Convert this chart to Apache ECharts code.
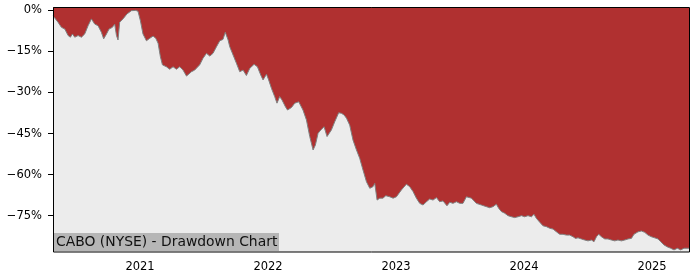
<!DOCTYPE html>
<html>
<head>
<meta charset="utf-8">
<script src="https://cdn.jsdelivr.net/npm/echarts@6/dist/echarts.min.js"></script>
<style>
html,body{margin:0;padding:0;background:#fff;}
#chart{width:700px;height:280px;}
</style>
</head>
<body>
<div id="chart"></div>
<script>
// Decimal-year dates
const years = [
2020.320,2020.359,2020.386,2020.412,2020.438,2020.456,2020.472,2020.490,2020.516,2020.542,
2020.568,2020.594,2020.620,2020.646,2020.672,2020.698,2020.716,2020.738,2020.758,2020.784,
2020.802,2020.816,2020.828,2020.841,2020.867,2020.898,2020.933,2020.966,2020.984,2021.003,
2021.023,2021.050,2021.076,2021.102,2021.123,2021.141,2021.159,2021.175,2021.206,2021.232,
2021.258,2021.284,2021.310,2021.336,2021.363,2021.375,2021.402,2021.427,2021.466,2021.492,
2021.519,2021.545,2021.570,2021.597,2021.623,2021.648,2021.666,2021.688,2021.701,2021.727,
2021.753,2021.779,2021.805,2021.831,2021.857,2021.891,2021.917,2021.943,2021.961,2021.988,
2022.005,2022.027,2022.052,2022.070,2022.091,2022.109,2022.136,2022.152,2022.183,2022.209,
2022.240,2022.255,2022.273,2022.300,2022.326,2022.352,2022.370,2022.391,2022.412,2022.438,
2022.461,2022.495,2022.521,2022.552,2022.573,2022.594,2022.613,2022.638,2022.664,2022.691,
2022.716,2022.742,2022.769,2022.795,2022.820,2022.834,2022.852,2022.873,2022.898,2022.920,
2022.951,2022.977,2023.003,2023.042,2023.081,2023.107,2023.133,2023.159,2023.185,2023.211,
2023.238,2023.263,2023.289,2023.316,2023.341,2023.367,2023.398,2023.420,2023.445,2023.472,
2023.498,2023.523,2023.550,2023.589,2023.628,2023.667,2023.706,2023.732,2023.758,2023.784,
2023.802,2023.823,2023.849,2023.875,2023.902,2023.927,2023.953,2023.980,2024.005,2024.031,
2024.058,2024.078,2024.097,2024.123,2024.148,2024.175,2024.201,2024.227,2024.253,2024.279,
2024.305,2024.331,2024.357,2024.383,2024.402,2024.422,2024.448,2024.474,2024.500,2024.527,
2024.547,2024.566,2024.584,2024.605,2024.631,2024.656,2024.683,2024.709,2024.734,2024.761,
2024.787,2024.813,2024.839,2024.859,2024.891,2024.917,2024.943,2024.969,2024.995,2025.021,
2025.047,2025.068,2025.094,2025.120,2025.146,2025.172,2025.198,2025.224,2025.250,2025.289
];
// Drawdown in percent
const drawdown = [
-2.0,-4.3,-6.2,-6.8,-9.2,-9.8,-8.6,-9.8,-9.2,-9.8,
-8.6,-5.6,-3.1,-5.0,-5.6,-8.0,-10.4,-8.6,-6.8,-6.2,
-5.0,-9.2,-10.8,-4.3,-3.1,-1.3,-0.1,0.0,-0.3,-3.8,
-8.6,-11.1,-10.2,-9.4,-10.2,-12.0,-16.9,-19.9,-20.6,-21.5,
-20.6,-21.5,-20.6,-21.8,-24.0,-24.4,-22.4,-21.8,-19.9,-17.5,
-15.7,-16.7,-15.7,-13.3,-11.1,-10.6,-8.0,-10.8,-13.3,-16.3,
-19.3,-22.4,-21.8,-23.8,-21.2,-19.7,-20.6,-23.6,-25.4,-23.3,
-25.4,-28.5,-31.5,-33.9,-31.5,-32.7,-35.2,-36.4,-35.5,-33.9,
-33.4,-33.9,-36.4,-40.0,-46.1,-51.0,-49.2,-44.9,-43.7,-42.5,
-46.1,-43.7,-40.7,-37.4,-37.6,-38.2,-39.4,-41.9,-47.4,-51.0,
-54.0,-58.3,-62.6,-65.0,-64.4,-63.2,-69.3,-68.6,-68.6,-67.7,
-68.1,-68.6,-68.1,-65.6,-63.5,-64.4,-66.2,-68.6,-70.5,-71.1,
-69.9,-68.9,-69.3,-68.4,-69.9,-69.6,-71.4,-70.1,-70.5,-69.9,
-70.5,-70.5,-68.1,-68.6,-70.5,-71.1,-71.7,-72.1,-71.7,-70.8,
-72.3,-73.5,-74.1,-75.0,-75.4,-75.7,-75.4,-75.0,-75.4,-75.0,
-75.4,-74.5,-76.0,-77.4,-78.7,-79.0,-79.6,-79.9,-80.9,-81.8,
-81.8,-82.1,-82.1,-82.7,-83.3,-83.1,-83.5,-83.9,-84.2,-83.9,
-84.5,-82.7,-81.8,-82.7,-83.5,-83.5,-83.9,-84.2,-83.9,-84.2,
-83.9,-83.5,-83.3,-81.8,-80.9,-80.6,-81.1,-82.1,-82.7,-83.1,
-83.5,-84.5,-85.7,-86.4,-86.9,-87.5,-86.9,-87.5,-86.9,-86.9
];
const xTicks = [2021, 2022, 2023, 2024, 2025];
const yTicks = [0, -15, -30, -45, -60, -75];
const title = 'CABO (NYSE) - Drawdown Chart';

const chart = echarts.init(document.getElementById('chart'), null, {renderer: 'canvas'});
const FONT = 'DejaVu Sans';
chart.setOption({
  animation: false,
  backgroundColor: '#ffffff',
  grid: {
    left: 53, right: 11, top: 7, bottom: 28,
    show: true, backgroundColor: '#ececec', borderWidth: 0
  },
  xAxis: {
    type: 'value',
    min: 2020.320, max: 2025.289,
    splitLine: {show: false},
    axisLine: {show: false},
    axisTick: {show: true, length: 5, customValues: xTicks, lineStyle: {color: '#000', width: 1}},
    axisLabel: {
      customValues: xTicks, margin: 9, color: '#000',
      fontFamily: FONT, fontSize: 11.5,
      formatter: v => String(Math.round(v))
    }
  },
  yAxis: {
    type: 'value',
    min: -88.27, max: 1.24,
    splitLine: {show: false},
    axisLine: {show: false},
    axisTick: {show: true, length: 5, customValues: yTicks, lineStyle: {color: '#000', width: 1}},
    axisLabel: {
      customValues: yTicks, margin: 11, color: '#000',
      fontFamily: FONT, fontSize: 11.5,
      formatter: v => (v === 0 ? '0%' : '\u2212' + Math.abs(v) + '%')
    }
  },
  series: [{
    type: 'line',
    data: years.map((y, i) => [y, drawdown[i]]),
    showSymbol: false,
    lineStyle: {color: '#808080', width: 1},
    areaStyle: {origin: 'end', color: '#b03030', opacity: 1},
    clip: true
  }],
  graphic: [
    {type: 'rect', z: 100, shape: {x: 53.5, y: 7.5, width: 636, height: 244.5},
     style: {fill: null, stroke: '#000', lineWidth: 1}},
    {type: 'rect', z: 101, shape: {x: 54, y: 233, width: 225, height: 18},
     style: {fill: '#b6b6b6'}},
    {type: 'text', z: 102, x: 56, y: 242,
     style: {text: title, fill: '#111', font: '13.9px "DejaVu Sans"', verticalAlign: 'middle'}}
  ]
});
</script>
</body>
</html>
